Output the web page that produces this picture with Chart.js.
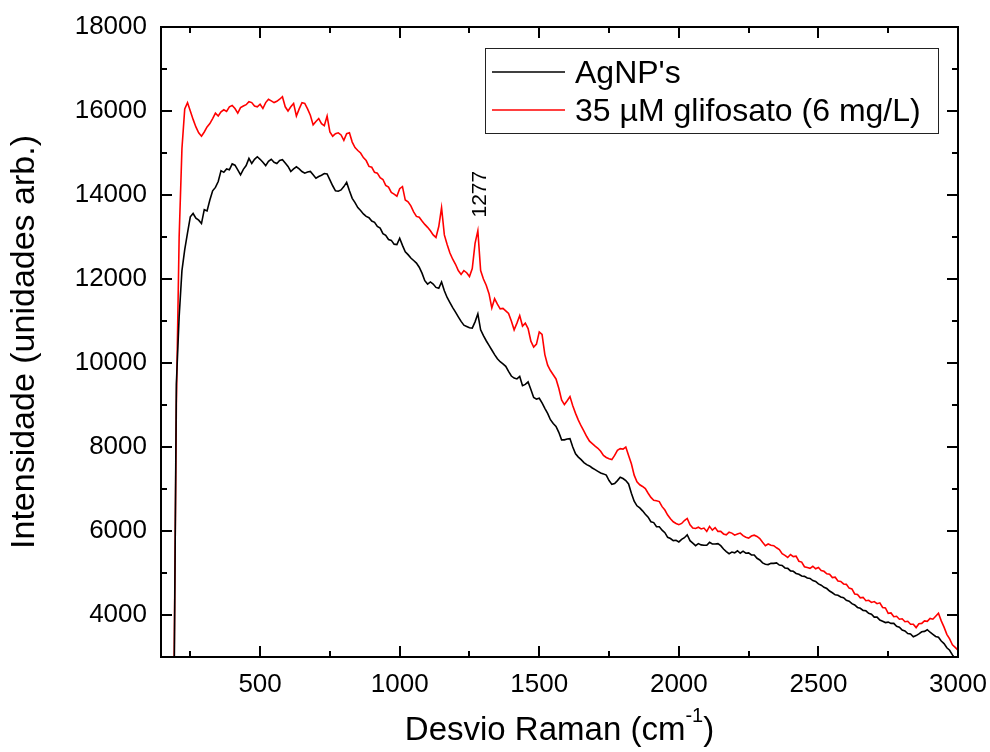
<!DOCTYPE html>
<html>
<head>
<meta charset="utf-8">
<script src="https://cdn.jsdelivr.net/npm/chart.js@4.4.1/dist/chart.umd.min.js"></script>
<style>
  html, body { margin: 0; padding: 0; background: #fff; }
  #wrap { width: 990px; height: 752px; }
</style>
</head>
<body>
<div id="wrap"><canvas id="chart" width="990" height="752"></canvas></div>
<script>
// Raman shift (cm-1), one row = 100 cm-1
const shift = [
  190, 200, 210, 220, 230, 240, 250, 260, 270, 280,
  290, 300, 310, 320, 330, 340, 350, 360, 370, 380,
  390, 400, 410, 420, 430, 440, 450, 460, 470, 480,
  490, 500, 510, 520, 530, 540, 550, 560, 570, 580,
  590, 600, 610, 620, 630, 640, 650, 660, 670, 680,
  690, 700, 710, 720, 730, 740, 750, 760, 770, 780,
  790, 800, 810, 820, 830, 840, 850, 860, 870, 880,
  890, 900, 910, 920, 930, 940, 950, 960, 970, 980,
  990, 1000, 1010, 1020, 1030, 1040, 1050, 1060, 1070, 1080,
  1090, 1100, 1110, 1120, 1130, 1140, 1150, 1160, 1170, 1180,
  1190, 1200, 1210, 1220, 1230, 1240, 1250, 1260, 1270, 1280,
  1290, 1300, 1310, 1320, 1330, 1340, 1350, 1360, 1370, 1380,
  1390, 1400, 1410, 1420, 1430, 1440, 1450, 1460, 1470, 1480,
  1490, 1500, 1510, 1520, 1530, 1540, 1550, 1560, 1570, 1580,
  1590, 1600, 1610, 1620, 1630, 1640, 1650, 1660, 1670, 1680,
  1690, 1700, 1710, 1720, 1730, 1740, 1750, 1760, 1770, 1780,
  1790, 1800, 1810, 1820, 1830, 1840, 1850, 1860, 1870, 1880,
  1890, 1900, 1910, 1920, 1930, 1940, 1950, 1960, 1970, 1980,
  1990, 2000, 2010, 2020, 2030, 2040, 2050, 2060, 2070, 2080,
  2090, 2100, 2110, 2120, 2130, 2140, 2150, 2160, 2170, 2180,
  2190, 2200, 2210, 2220, 2230, 2240, 2250, 2260, 2270, 2280,
  2290, 2300, 2310, 2320, 2330, 2340, 2350, 2360, 2370, 2380,
  2390, 2400, 2410, 2420, 2430, 2440, 2450, 2460, 2470, 2480,
  2490, 2500, 2510, 2520, 2530, 2540, 2550, 2560, 2570, 2580,
  2590, 2600, 2610, 2620, 2630, 2640, 2650, 2660, 2670, 2680,
  2690, 2700, 2710, 2720, 2730, 2740, 2750, 2760, 2770, 2780,
  2790, 2800, 2810, 2820, 2830, 2840, 2850, 2860, 2870, 2880,
  2890, 2900, 2910, 2920, 2930, 2940, 2950, 2960, 2970, 2980,
  2990, 3000
];

const agnp = [
  500, 9500, 11100, 12200, 12700, 13100, 13480, 13560, 13450, 13400,
  13320, 13650, 13620, 13880, 14100, 14180, 14320, 14580, 14540, 14620,
  14600, 14740, 14710, 14600, 14480, 14610, 14700, 14870, 14750, 14850,
  14910, 14850, 14780, 14700, 14800, 14850, 14780, 14750, 14820, 14840,
  14760, 14680, 14560, 14620, 14670, 14620, 14560, 14520, 14550, 14560,
  14480, 14400, 14440, 14470, 14510, 14500, 14360, 14220, 14100, 14090,
  14120, 14200, 14300, 14100, 13920, 13820, 13700, 13630, 13550, 13490,
  13460, 13380, 13350, 13250, 13210, 13080, 13040, 12940, 12920, 12830,
  12820, 12970, 12800, 12650, 12580, 12500, 12440, 12380, 12280, 12140,
  11960, 11880, 11930, 11880, 11800, 11780, 11930, 11720, 11560, 11440,
  11320, 11210, 11100, 10990, 10900, 10870, 10840, 10830, 10980, 11170,
  10790, 10650, 10530, 10420, 10310, 10200, 10100, 10030, 9980, 9920,
  9800, 9690, 9640, 9620, 9680, 9460, 9490, 9550, 9370, 9180,
  9140, 9160, 9050, 8920, 8800, 8650, 8560, 8490, 8350, 8170,
  8170, 8190, 8200, 8000, 7840, 7760, 7700, 7630, 7580, 7550,
  7500, 7460, 7420, 7380, 7360, 7330, 7200, 7110, 7130, 7200,
  7280, 7250, 7200, 7120, 6900, 6710, 6600, 6550, 6480, 6400,
  6330, 6220, 6200, 6100, 6100, 6020, 5960, 5850, 5820, 5770,
  5780, 5740, 5800, 5840, 5910, 5770, 5710, 5650, 5700, 5670,
  5660, 5660, 5730, 5690, 5690, 5700, 5650, 5570, 5510, 5460,
  5500, 5480, 5530, 5470, 5520, 5470, 5480, 5430, 5430, 5350,
  5310, 5240, 5210, 5200, 5230, 5230, 5240, 5190, 5180, 5120,
  5110, 5050, 5040, 4990, 4970, 4930, 4920, 4880, 4870, 4820,
  4800, 4740, 4710, 4660, 4630, 4570, 4530, 4480, 4470, 4430,
  4410, 4350, 4330, 4270, 4240, 4180, 4160, 4110, 4100, 4040,
  4020, 3950, 3950, 3880, 3850, 3820, 3830, 3800, 3800, 3730,
  3710, 3640, 3620, 3560, 3550, 3480, 3510, 3550, 3600, 3610,
  3650, 3590, 3540, 3490, 3470, 3380, 3320, 3220, 3160, 3050,
  2960, 2880
];

const glifosato = [
  1200, 9000, 13000, 15100, 16050, 16200, 16000, 15800, 15620, 15480,
  15400, 15500, 15620, 15700, 15820, 15950, 15880, 15980, 16030, 15990,
  16100, 16130, 16060, 15950, 16080, 16120, 16150, 16220, 16200, 16120,
  16100, 16160, 16060, 16200, 16280, 16240, 16200, 16230, 16280, 16340,
  16100, 16000, 16100, 16180, 15880, 16050, 16200, 16180, 16050, 15900,
  15670, 15750, 15820, 15700, 15650, 15880, 15500, 15400, 15460, 15480,
  15430, 15300, 15460, 15480, 15260, 15130, 15060, 15000, 14890, 14820,
  14680, 14660, 14540, 14520, 14410, 14370, 14230, 14190, 14060, 14020,
  13970, 14150, 14200, 13880, 13840, 13740, 13600, 13490, 13470, 13380,
  13300, 13230, 13150, 13050, 12990, 13250, 13700, 13050, 12820, 12620,
  12470, 12350, 12200, 12110, 12200, 12150, 12060, 12250, 12850, 13150,
  12200, 12000, 11850, 11650, 11310, 11530, 11400, 11290, 11300, 11240,
  11180, 11000, 10790, 10950, 11130, 10880, 10950, 10820, 10520, 10380,
  10450, 10740, 10680, 10200, 9950, 9820, 9720, 9620, 9400, 9120,
  9010, 9100, 9200, 8980, 8800, 8640, 8500, 8380, 8250, 8140,
  8080, 8020, 7970, 7900, 7800, 7750, 7720, 7700, 7800, 7920,
  7960, 7950, 8000, 7800, 7600, 7330, 7170, 7100, 7060, 7010,
  6900, 6800, 6730, 6720, 6700, 6580, 6500, 6380, 6290, 6220,
  6180, 6150, 6180, 6250, 6300, 6150, 6070, 6060, 6090, 6050,
  6070, 5990, 6110, 6020, 6080, 5990, 5990, 5930, 5910, 5970,
  5950, 5900, 5930, 5950, 5890, 5850, 5830, 5880, 5900, 5870,
  5820, 5730, 5650, 5690, 5660, 5650, 5600, 5560, 5460, 5420,
  5370, 5440, 5390, 5400, 5280, 5260, 5150, 5130, 5110, 5160,
  5100, 5130, 5060, 5040, 4980, 4970, 4890, 4900, 4810, 4800,
  4740, 4730, 4640, 4620, 4500, 4490, 4410, 4420, 4340, 4350,
  4300, 4320, 4270, 4290, 4180, 4170, 4040, 4050, 3960, 3970,
  3900, 3910, 3840, 3850, 3780, 3780, 3700, 3790, 3800, 3860,
  3850, 3920, 3900, 3970, 4040, 3860, 3710, 3540, 3430, 3290,
  3230, 3160
];

const seriesLabels = ["AgNP's", '35 \u00b5M glifosato (6 mg/L)'];
const seriesColors = ['#000000', '#ff0000'];

const xTicks = [500, 1000, 1500, 2000, 2500, 3000];
const xMinor = [250, 750, 1250, 1750, 2250, 2750];
const yTicks = [4000, 6000, 8000, 10000, 12000, 14000, 16000, 18000];
const yMinor = [5000, 7000, 9000, 11000, 13000, 15000, 17000];

const peakLabel = { x: 1288, y: 14020, text: '1277' };

const FONT = '"Liberation Sans", Arial, Helvetica, sans-serif';

const framePlugin = {
  id: 'frame',
  afterDatasetsDraw(chart) {
    const { ctx, chartArea: a, scales: { x, y } } = chart;
    ctx.save();

    // box + inward ticks on all four sides
    ctx.strokeStyle = '#000';
    ctx.lineWidth = 2;
    ctx.strokeRect(a.left, a.top, a.right - a.left, a.bottom - a.top);
    ctx.beginPath();
    const xMarks = (vals, len) => vals.forEach(v => {
      const p = Math.round(x.getPixelForValue(v));
      ctx.moveTo(p, a.bottom); ctx.lineTo(p, a.bottom - len);
      ctx.moveTo(p, a.top); ctx.lineTo(p, a.top + len);
    });
    const yMarks = (vals, len) => vals.forEach(v => {
      const p = Math.round(y.getPixelForValue(v));
      ctx.moveTo(a.left, p); ctx.lineTo(a.left + len, p);
      ctx.moveTo(a.right, p); ctx.lineTo(a.right - len, p);
    });
    xMarks(xTicks, 11); xMarks(xMinor, 6);
    yMarks(yTicks, 11); yMarks(yMinor, 6);
    ctx.stroke();

    // peak annotation
    ctx.fillStyle = '#000';
    ctx.font = '21px ' + FONT;
    ctx.textAlign = 'center';
    ctx.textBaseline = 'middle';
    ctx.translate(x.getPixelForValue(peakLabel.x), y.getPixelForValue(peakLabel.y));
    ctx.rotate(-Math.PI / 2);
    ctx.fillText(peakLabel.text, 0, 0);
    ctx.setTransform(1, 0, 0, 1, 0, 0);

    // legend box
    ctx.fillStyle = '#fff';
    ctx.fillRect(485.5, 48.5, 453, 85);
    ctx.lineWidth = 1;
    ctx.strokeStyle = '#222';
    ctx.strokeRect(485.5, 48.5, 453, 85);
    ctx.font = '32px ' + FONT;
    ctx.textAlign = 'left';
    ctx.textBaseline = 'alphabetic';
    chart.data.datasets.forEach((ds, i) => {
      const cy = 72 + i * 38;
      ctx.strokeStyle = ds.borderColor;
      ctx.lineWidth = 1.3;
      ctx.beginPath();
      ctx.moveTo(492, cy); ctx.lineTo(565, cy);
      ctx.stroke();
      ctx.fillStyle = '#000';
      ctx.fillText(ds.label, 575, cy + 11);
    });

    // x axis title with superscript
    const main = 'Desvio Raman (cm', sup = '-1', end = ')';
    ctx.font = '33px ' + FONT;
    const w1 = ctx.measureText(main).width;
    const w3 = ctx.measureText(end).width;
    ctx.font = '20px ' + FONT;
    const w2 = ctx.measureText(sup).width;
    const x0 = (a.left + a.right) / 2 - (w1 + w2 + w3) / 2;
    const base = 740;
    ctx.fillStyle = '#000';
    ctx.font = '33px ' + FONT;
    ctx.fillText(main, x0, base);
    ctx.fillText(end, x0 + w1 + w2, base);
    ctx.font = '20px ' + FONT;
    ctx.fillText(sup, x0 + w1, base - 18);

    ctx.restore();
  }
};

new Chart(document.getElementById('chart'), {
  type: 'line',
  data: {
    labels: shift,
    datasets: [
      {
        label: seriesLabels[0],
        data: shift.map((s, i) => ({ x: s, y: agnp[i] })),
        borderColor: seriesColors[0],
        borderWidth: 1.6,
        pointRadius: 0,
        tension: 0
      },
      {
        label: seriesLabels[1],
        data: shift.map((s, i) => ({ x: s, y: glifosato[i] })),
        borderColor: seriesColors[1],
        borderWidth: 1.6,
        pointRadius: 0,
        tension: 0
      }
    ]
  },
  options: {
    responsive: false,
    animation: false,
    layout: { padding: { top: 27, right: 32, left: 0, bottom: 0 } },
    plugins: {
      legend: { display: false },
      tooltip: { enabled: false }
    },
    scales: {
      x: {
        type: 'linear',
        min: 145,
        max: 3000,
        afterBuildTicks: s => { s.ticks = xTicks.map(v => ({ value: v })); },
        afterFit: s => { s.height = 95; s.paddingLeft = 0; s.paddingRight = 0; },
        grid: { display: false, drawTicks: false },
        border: { display: false },
        ticks: {
          padding: 12,
          maxRotation: 0,
          color: '#000',
          font: { family: FONT, size: 26 },
          callback: v => String(v)
        }
      },
      y: {
        min: 3000,
        max: 18000,
        afterBuildTicks: s => { s.ticks = yTicks.map(v => ({ value: v })); },
        afterFit: s => { s.width = 161; s.paddingTop = 0; s.paddingBottom = 0; },
        grid: { display: false, drawTicks: false },
        border: { display: false },
        ticks: {
          padding: 14,
          color: '#000',
          font: { family: FONT, size: 26 },
          callback: v => String(v)
        },
        title: {
          display: true,
          text: 'Intensidade (unidades arb.)',
          color: '#000',
          font: { family: FONT, size: 34 },
          padding: { top: 4, bottom: 0 }
        }
      }
    }
  },
  plugins: [framePlugin]
});
</script>
</body>
</html>
